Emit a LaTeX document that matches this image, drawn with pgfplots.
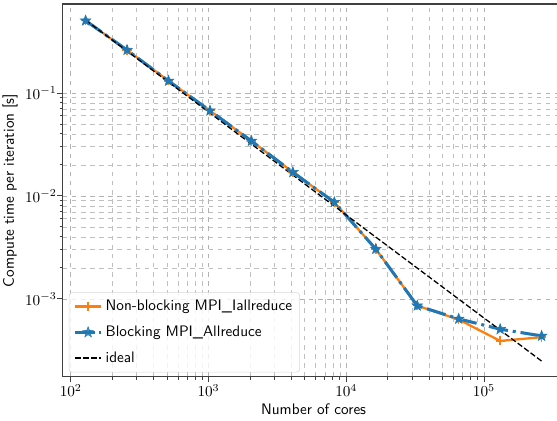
\documentclass[border=0pt]{standalone}
\usepackage{pgfplots}
\pgfplotsset{compat=1.18}
\usetikzlibrary{plotmarks}
\definecolor{mplblue}{HTML}{1F77B4}
\definecolor{mplorange}{HTML}{FF7F0E}
% filled five-pointed star marker
\pgfdeclareplotmark{fivestar}{%
  \pgfpathmoveto{\pgfqpointpolar{90}{\pgfplotmarksize}}%
  \pgfpathlineto{\pgfqpointpolar{126}{0.42\pgfplotmarksize}}%
  \pgfpathlineto{\pgfqpointpolar{162}{\pgfplotmarksize}}%
  \pgfpathlineto{\pgfqpointpolar{198}{0.42\pgfplotmarksize}}%
  \pgfpathlineto{\pgfqpointpolar{234}{\pgfplotmarksize}}%
  \pgfpathlineto{\pgfqpointpolar{270}{0.42\pgfplotmarksize}}%
  \pgfpathlineto{\pgfqpointpolar{306}{\pgfplotmarksize}}%
  \pgfpathlineto{\pgfqpointpolar{342}{0.42\pgfplotmarksize}}%
  \pgfpathlineto{\pgfqpointpolar{18}{\pgfplotmarksize}}%
  \pgfpathlineto{\pgfqpointpolar{54}{0.42\pgfplotmarksize}}%
  \pgfpathclose
  \pgfusepathqfillstroke
}
\begin{document}
\begin{tikzpicture}
\begin{axis}[
  scale only axis,
  width=330.2pt, height=245.4pt,
  xmode=log, ymode=log,
  xmin=87.4, xmax=3.84e5,
  ymin=1.75e-4, ymax=0.731,
  xtick={100,1000,10000,100000},
  ytick={0.001,0.01,0.1},
  grid=both,
  major grid style={dashed, black!30, line width=0.5pt},
  minor grid style={dashed, black!25, line width=0.45pt},
  tick align=outside,
  tick pos=left,
  major tick length=3.5pt,
  minor tick length=2pt,
  every tick/.style={black!75, line width=0.6pt},
  axis line style={black!75, line width=0.8pt},
  yticklabel style={xshift=3pt},
  xticklabel style={yshift=2pt},
  xlabel={\sffamily Number of cores},
  ylabel={\sffamily Compute time per iteration [s]},
  xlabel style={yshift=2pt},
  ylabel style={yshift=-2pt},
  legend cell align=left,
  legend style={at={(0.012,0.012)}, anchor=south west, font=\sffamily,
    draw=black!15, fill=white, fill opacity=0.8, text opacity=1,
    rounded corners=2pt, row sep=4.5pt, inner sep=3pt},
]
\addplot[mplorange, line width=1.5pt, mark=+, mark size=3pt,
  mark options={solid, line width=1pt}]
  coordinates {(128,0.504) (256,0.261) (512,0.131) (1024,0.0673) (2048,0.0342)
    (4096,0.0170) (8192,0.00869) (16384,0.00305) (32768,8.6e-4) (65536,6.3e-4)
    (131072,3.91e-4) (262144,4.25e-4)};
\addlegendentry{Non-blocking MPI\_Iallreduce}
\addplot[mplblue, line width=2pt, dash pattern=on 12.8pt off 3.2pt on 2pt off 3.2pt,
  mark=fivestar, mark size=3.6pt,
  mark options={solid, draw=mplblue, fill=mplblue, line width=0.4pt}]
  coordinates {(128,0.504) (256,0.261) (512,0.131) (1024,0.0673) (2048,0.0342)
    (4096,0.0170) (8192,0.00869) (16384,0.00305) (32768,8.6e-4) (65536,6.4e-4)
    (131072,5.08e-4) (262144,4.37e-4)};
\addlegendentry{Blocking MPI\_Allreduce}
\addplot[black, line width=0.85pt, dash pattern=on 3.7pt off 1.6pt]
  coordinates {(128,0.51) (262144,2.49e-4)};
\addlegendentry{ideal}
\coordinate (sw) at (rel axis cs:0,0);
\coordinate (nw) at (rel axis cs:0,1);
\end{axis}
\pgfresetboundingbox
\path[use as bounding box] ([xshift=-41.3pt,yshift=-28.95pt]sw)
  rectangle ([xshift=325.3pt,yshift=2.63pt]nw);
\end{tikzpicture}
\end{document}
